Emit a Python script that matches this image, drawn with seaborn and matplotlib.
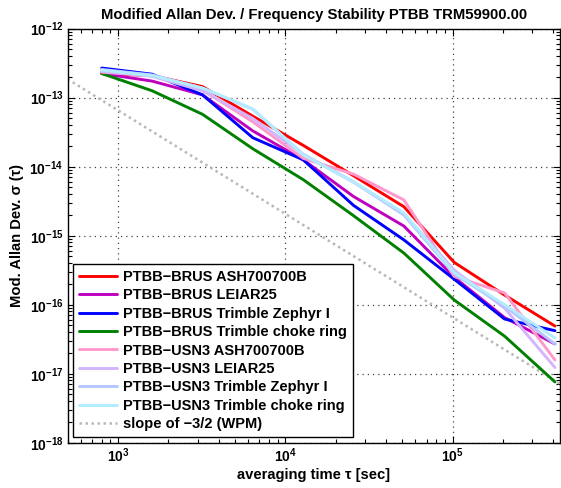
import matplotlib
matplotlib.use("Agg")
import matplotlib.pyplot as plt
import matplotlib.ticker as mticker
from matplotlib.lines import Line2D
import numpy as np
import pandas as pd
import seaborn as sns

# ---- data ----
tau = [800, 1600, 3200, 6400, 12800, 25600, 51200, 102400, 204800, 409600]

series_names = [
    "PTBB\u2212BRUS ASH700700B",
    "PTBB\u2212BRUS LEIAR25",
    "PTBB\u2212BRUS Trimble Zephyr I",
    "PTBB\u2212BRUS Trimble choke ring",
    "PTBB\u2212USN3 ASH700700B",
    "PTBB\u2212USN3 LEIAR25",
    "PTBB\u2212USN3 Trimble Zephyr I",
    "PTBB\u2212USN3 Trimble choke ring",
]

brus_ash = [2.24e-13, 2.09e-13, 1.45e-13, 5.4e-14, 2.04e-14, 7.4e-15, 2.63e-15, 4.1e-16, 1.38e-16, 4.9e-17]
brus_leiar = [2.24e-13, 1.74e-13, 1.10e-13, 3.3e-14, 1.26e-14, 3.7e-15, 1.38e-15, 2.5e-16, 6.5e-17, 2.7e-17]
brus_zephyr = [2.69e-13, 2.19e-13, 1.10e-13, 2.63e-14, 1.26e-14, 2.75e-15, 8.7e-16, 2.34e-16, 6.2e-17, 4.2e-17]
brus_choke = [2.24e-13, 1.26e-13, 5.75e-14, 1.82e-14, 6.5e-15, 1.95e-15, 5.6e-16, 1.17e-16, 3.5e-17, 7.6e-18]
usn3_ash = [2.34e-13, 2.09e-13, 1.29e-13, 4.47e-14, 1.32e-14, 7.8e-15, 3.3e-15, 2.57e-16, 1.48e-16, 1.58e-17]
usn3_leiar = [2.40e-13, 2.04e-13, 1.26e-13, 5.0e-14, 1.51e-14, 6.0e-15, 2.09e-15, 3.16e-16, 8.9e-17, 1.23e-17]
usn3_zephyr = [2.57e-13, 2.14e-13, 1.38e-13, 6.8e-14, 1.51e-14, 6.0e-15, 2.0e-15, 2.8e-16, 9.5e-17, 2.7e-17]
usn3_choke = [2.51e-13, 2.09e-13, 1.38e-13, 6.9e-14, 1.48e-14, 6.0e-15, 2.14e-15, 2.9e-16, 1.0e-16, 3.3e-17]

slope_tau = [500, 440000]
slope_sigma = [1.86e-13, 7.1e-18]
slope_label = "slope of \u22123/2 (WPM)"

colors = ["#ff0000", "#bf00bf", "#0000ff", "#008000",
          "#ff99cc", "#d4b4ff", "#b3c6ff", "#b3ecff"]

all_vals = [brus_ash, brus_leiar, brus_zephyr, brus_choke,
            usn3_ash, usn3_leiar, usn3_zephyr, usn3_choke]

rows = []
for name, vals in zip(series_names, all_vals):
    for t, v in zip(tau, vals):
        rows.append({"tau": t, "sigma": v, "series": name})
df = pd.DataFrame(rows)

# ---- style ----
sns.set_style("ticks")
plt.rcParams["font.family"] = ["Liberation Sans", "DejaVu Sans"]
plt.rcParams["font.weight"] = "bold"
plt.rcParams["mathtext.fontset"] = "custom"
plt.rcParams["mathtext.rm"] = "Liberation Sans:bold"
plt.rcParams["mathtext.bf"] = "Liberation Sans:bold"
plt.rcParams["mathtext.it"] = "Liberation Sans:bold"
for k in ["text.color", "axes.labelcolor", "xtick.color", "ytick.color", "axes.edgecolor"]:
    plt.rcParams[k] = "black"

fig = plt.figure(figsize=(5.61, 4.88), dpi=100)
ax = fig.add_axes([0.1205, 0.0928, 0.878, 0.8484])

ax.plot(slope_tau, slope_sigma, color="#b8b8b8", lw=1.8,
        linestyle=(0, (1.0, 1.4)), zorder=1)

sns.lineplot(data=df, x="tau", y="sigma", hue="series",
             hue_order=series_names, palette=colors,
             linewidth=2.1, ax=ax, legend=False, zorder=3)

ax.set_xscale("log")
ax.set_yscale("log")
ax.set_xlim(500, 440000)
ax.set_ylim(1e-18, 1e-12)

ax.xaxis.set_major_locator(mticker.FixedLocator([1e3, 1e4, 1e5]))
ax.xaxis.set_major_formatter(mticker.FixedFormatter(
    [r"$\mathbf{10^{3}}$", r"$\mathbf{10^{4}}$", r"$\mathbf{10^{5}}$"]))
ax.xaxis.set_minor_locator(mticker.LogLocator(base=10, subs=np.arange(2, 10)))
ax.xaxis.set_minor_formatter(mticker.NullFormatter())

yt = [1e-18, 1e-17, 1e-16, 1e-15, 1e-14, 1e-13, 1e-12]
ax.yaxis.set_major_locator(mticker.FixedLocator(yt))
ax.yaxis.set_major_formatter(mticker.FixedFormatter(
    [r"$\mathbf{10^{-%d}}$" % e for e in [18, 17, 16, 15, 14, 13, 12]]))
ax.yaxis.set_minor_locator(mticker.LogLocator(base=10, subs=np.arange(2, 10), numticks=20))
ax.yaxis.set_minor_formatter(mticker.NullFormatter())

ax.tick_params(which="both", direction="in", top=True, right=True,
               labelsize=10, width=0.8, pad=3, colors="black")
ax.tick_params(which="major", length=5)
ax.tick_params(which="minor", length=3)

for sp in ax.spines.values():
    sp.set_linewidth(1.0)
    sp.set_color("black")

ax.grid(True, which="major", color="#444444", lw=0.9,
        linestyle=(0, (1, 3.2)))
ax.set_axisbelow(True)

ax.set_title("Modified Allan Dev. / Frequency Stability PTBB TRM59900.00",
             fontsize=10.7, fontweight="bold", pad=7, color="black")
ax.set_xlabel("averaging time \u03c4 [sec]", fontsize=10.6, fontweight="bold", labelpad=2)
ax.set_ylabel("Mod. Allan Dev. \u03c3 (\u03c4)", fontsize=10.6, fontweight="bold", labelpad=4)

handles = [Line2D([], [], color=c, lw=2.1) for c in colors]
handles.append(Line2D([], [], color="#b8b8b8", lw=1.8, linestyle=(0, (1.0, 1.4))))
labels = series_names + [slope_label]
leg = ax.legend(handles, labels, loc="lower left",
                frameon=True, fancybox=False, framealpha=1,
                edgecolor="black", handlelength=2.6, handletextpad=0.4,
                labelspacing=0.3, borderpad=0.4, borderaxespad=0.4,
                prop={"weight": "bold", "size": 10.5})
leg.get_frame().set_linewidth(1.0)
for t in leg.get_texts():
    t.set_color("black")

fig.savefig("out.png", dpi=100)
